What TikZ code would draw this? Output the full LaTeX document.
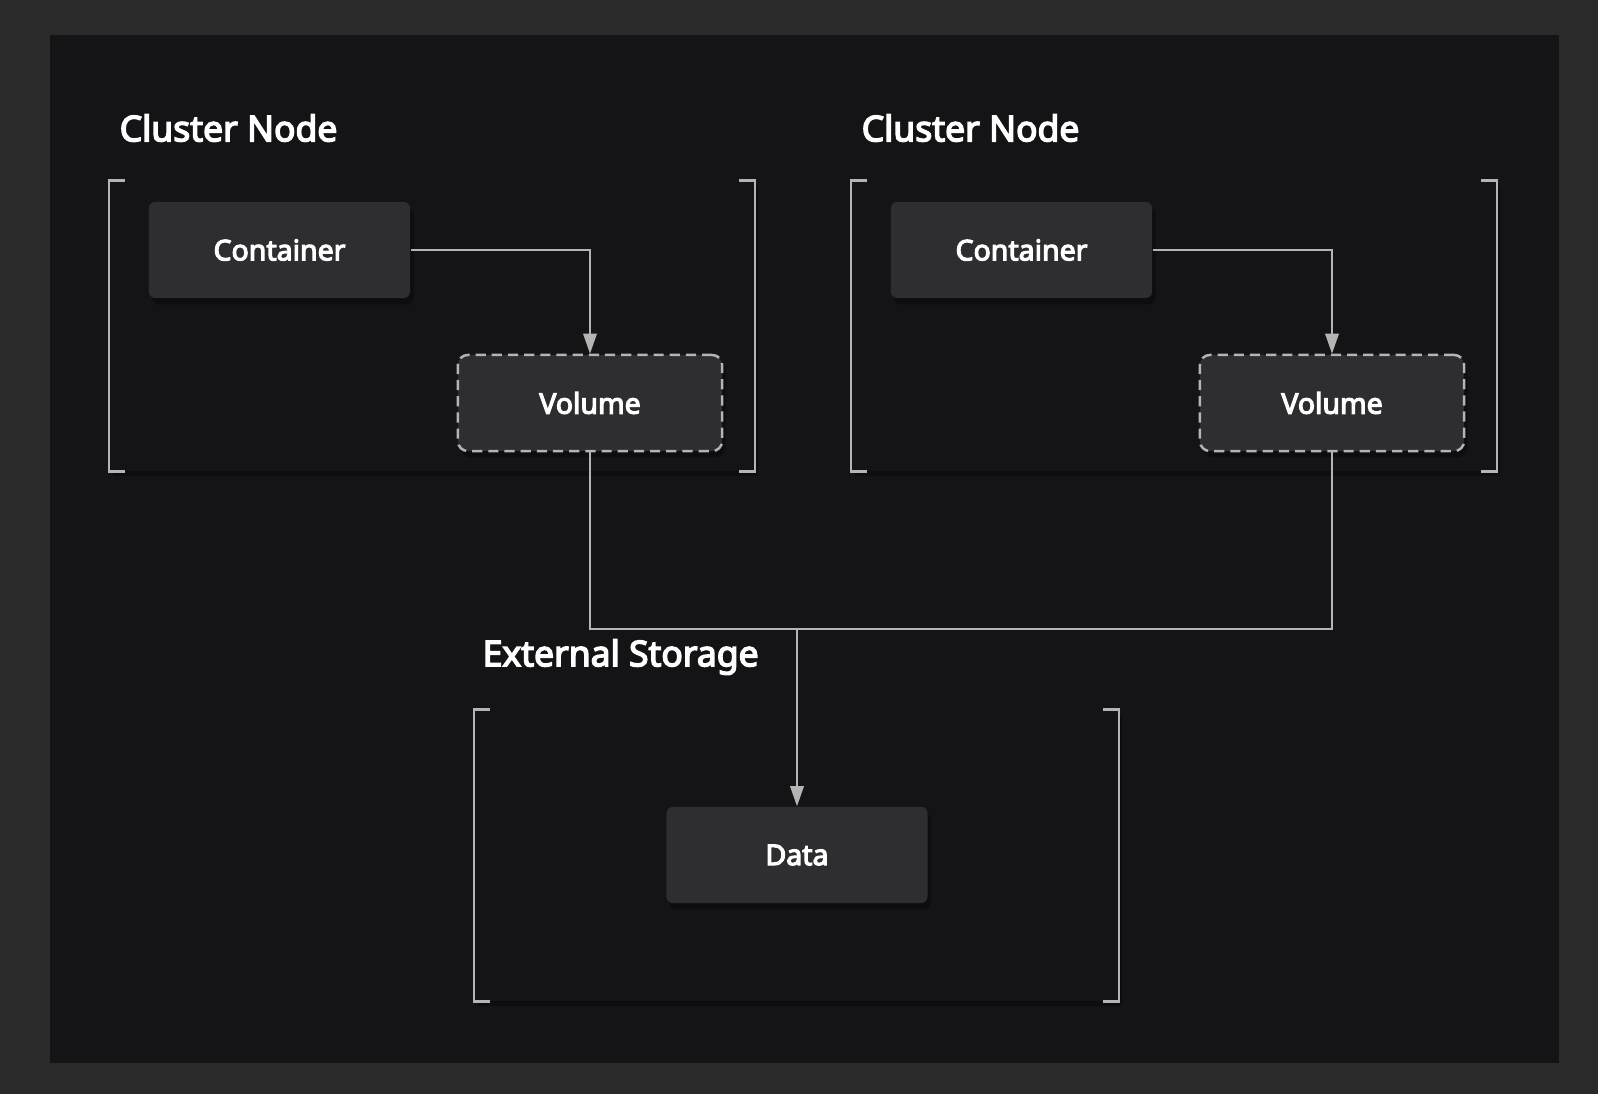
\documentclass[tikz,border=0pt]{standalone}
\usepackage{fontspec}
\setmainfont{Noto Sans}[BoldFont={Noto Sans}, BoldFeatures={FakeBold=4}]
\usepackage{xcolor}
\usepackage{tikz}
\usetikzlibrary{arrows.meta, shadows}
\definecolor{outerbg}{HTML}{2A2A2B}
\definecolor{panelbg}{HTML}{141416}
\definecolor{boxbg}{HTML}{2E2D30}
\definecolor{linegray}{HTML}{B4B4B4}
\tikzstyle{clusterframe}=[rectangle, fill=panelbg, inner sep=0pt, drop shadow={shadow xshift=1pt, shadow yshift=-1.5pt, fill=black, opacity=0.3}]
\tikzstyle{heading}=[anchor=west, inner sep=0pt, text=white, font=\bfseries\fontsize{10.1}{12}\selectfont]
\tikzstyle{box}=[rectangle, rounded corners=1.8pt, fill=boxbg, text=white, minimum width=2.61cm, minimum height=0.96cm, font=\bfseries\fontsize{8.1}{9}\selectfont, drop shadow={shadow xshift=1pt, shadow yshift=-1.8pt, fill=black, opacity=0.3}]
\tikzstyle{volbox}=[box, draw=linegray, line width=0.7pt, dash pattern=on 2.9pt off 1.7pt, rounded corners=2.8pt, minimum width=2.64cm]
\tikzstyle{bracketline}=[draw=linegray, line width=0.75pt]
\tikzstyle{link}=[draw=linegray, line width=0.65pt]
\tikzstyle{tip}=[-{Triangle[length=5.7pt, width=3.8pt]}]

\begin{document}
\begin{tikzpicture}[x=0.01cm, y=-0.01cm]
        \fill[outerbg] (0,0) rectangle (1598,1094);
        \fill[panelbg] (50,35) rectangle (1559,1063);
        \foreach \dx/\n in {0/1,742/2} {
             \node[clusterframe, minimum width=6.44cm, minimum height=2.90cm] (f\n) at (432+\dx,326) {};
             \draw[bracketline] ([xshift=4.5pt]f\n.north west) -- (f\n.north west) -- (f\n.south west) -- ([xshift=4.5pt]f\n.south west);
             \draw[bracketline] ([xshift=-4.5pt]f\n.north east) -- (f\n.north east) -- (f\n.south east) -- ([xshift=-4.5pt]f\n.south east);
             \node[heading] (t\n) at (119+\dx,128) {Cluster Node};
             \node[box] (c\n) at (279.5+\dx,250) {Container};
             \node[volbox] (v\n) at (590+\dx,403) {Volume};
             \draw[link, tip] (c\n.east) -| (v\n.north);
        }
        \node[clusterframe, minimum width=6.43cm, minimum height=2.91cm] (fs) at (796.5,855.5) {};
        \draw[bracketline] ([xshift=4.5pt]fs.north west) -- (fs.north west) -- (fs.south west) -- ([xshift=4.5pt]fs.south west);
        \draw[bracketline] ([xshift=-4.5pt]fs.north east) -- (fs.north east) -- (fs.south east) -- ([xshift=-4.5pt]fs.south east);
        \node[heading] (ts) at (482,657) {External Storage};
        \node[box] (d) at (797,855) {Data};
        \coordinate (j) at (797,629);
        \draw[link] (v1.south) |- (j) -| (v2.south);
        \draw[link, tip] (j) -- (d.north);
    \end{tikzpicture}
\end{document}
